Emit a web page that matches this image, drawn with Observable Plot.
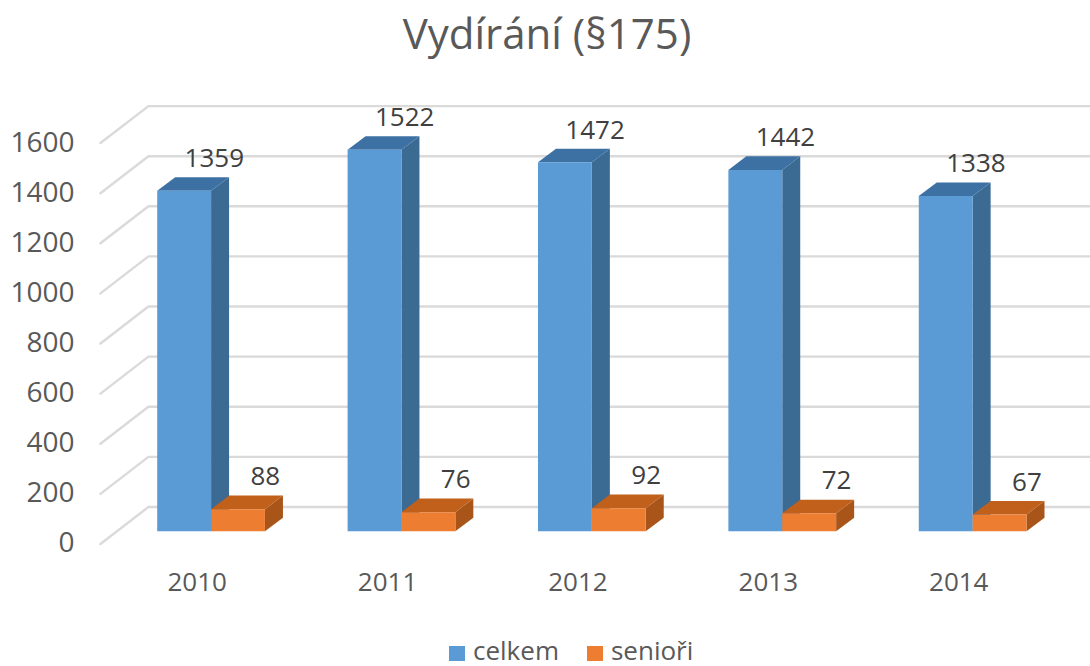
<!DOCTYPE html>
<html lang="cs">
<head>
<meta charset="utf-8">
<script src="https://cdn.jsdelivr.net/npm/d3@7"></script>
<script src="https://cdn.jsdelivr.net/npm/@observablehq/plot@0.6"></script>
<style>
  html, body { margin: 0; padding: 0; background: #fff; width: 1090px; height: 666px; overflow: hidden; }
  body { font-family: "Open Sans", sans-serif; color: #595959; }
  #title { height: 70px; line-height: 66px; text-align: center; font-size: 42px; padding-left: 4px; box-sizing: border-box; }
  #chart svg { display: block; }
  #legend { height: 46px; display: flex; justify-content: flex-start; align-items: center; padding: 14px 0 0 449px; box-sizing: border-box; font-size: 26px; line-height: 32px; }
  #legend span.key { display: inline-block; width: 16px; height: 15px; margin-right: 8px; position: relative; top: 3px; }
  #legend span.label { margin-right: 28px; }
</style>
</head>
<body>
<div id="title"></div>
<div id="chart"></div>
<div id="legend"></div>
<script>
const chartTitle = "Vydírání (§175)";
const years = [2010, 2011, 2012, 2013, 2014];
const celkem = [1359, 1522, 1472, 1442, 1338];
const seniori = [88, 76, 92, 72, 67];
const yTicks = [0, 200, 400, 600, 800, 1000, 1200, 1400, 1600];
const seriesNames = ["celkem", "senioři"];
const seriesColors = ["#5B9BD5", "#ED7D31"];
const sideColors = ["#3B6A93", "#A9551A"];
const topColors = ["#3D71A3", "#C0601B"];

// The 3D look is a shear of the data space: x is in category steps, y in value units.
const barW = 0.283, wallDX = 0.252, wallDY = 147.6;  // front edge of the floor to the back wall
const depthDX = 0.0945, depthDY = 54, frontY = -96.6; // bar depth, and the level of the bar's front foot
const xMin = -0.823, xMax = 4.902;

const grid = yTicks.flatMap(t => [
  {t, x: -0.298, y: t - wallDY},
  {t, x: -0.298 + wallDX, y: t},
  {t, x: xMax, y: t}
]);

function faces(values, series) {
  const start = series * barW;
  return values.flatMap((v, i) => {
    const l = i + start, r = l + barW, b = frontY, h = frontY + v;
    const poly = (face, pts) => pts.map(([x, y]) => ({id: `${series}-${i}-${face}`, face, x, y}));
    return [
      ...poly("side", [[r, b], [r + depthDX, b + depthDY], [r + depthDX, h + depthDY], [r, h]]),
      ...poly("top", [[l, h], [l + depthDX, h + depthDY], [r + depthDX, h + depthDY], [r, h]]),
      ...poly("front", [[l, b], [r, b], [r, h], [l, h]])
    ];
  });
}

const faceMarks = s => {
  const data = faces(s === 0 ? celkem : seniori, s);
  return [
    Plot.line(data.filter(d => d.face === "side"), {x: "x", y: "y", z: "id", fill: sideColors[s], stroke: "none"}),
    Plot.line(data.filter(d => d.face === "top"), {x: "x", y: "y", z: "id", fill: topColors[s], stroke: "none"}),
    Plot.line(data.filter(d => d.face === "front"), {x: "x", y: "y", z: "id", fill: seriesColors[s], stroke: "none"})
  ];
};

const labelStyle = {fill: "#404040", fontSize: 26, fontFamily: "Open Sans, sans-serif", stroke: "none"};

const plot = Plot.plot({
  width: 1090,
  height: 550,
  marginTop: 0, marginRight: 0, marginBottom: 0, marginLeft: 0,
  style: {background: "#fff", overflow: "visible"},
  x: {domain: [xMin, xMax], axis: null},
  y: {domain: [-453, 1742], axis: null},
  marks: [
    Plot.line(grid, {x: "x", y: "y", z: "t", stroke: "#DADADA", strokeWidth: 2.4}),
    Plot.axisY(yTicks, {
      anchor: "left", x: xMin, tickSize: 0, dx: 83, dy: 36.5, tickFormat: d => String(d),
      textAnchor: "end", label: null, fill: "#595959", fontSize: 28, fontFamily: "Open Sans, sans-serif"
    }),
    ...faceMarks(0),
    ...faceMarks(1),
    Plot.text(celkem, {x: (d, i) => i + 0.30, y: d => d + frontY, text: d => String(d), dy: -32, ...labelStyle}),
    Plot.text(seniori, {x: (d, i) => i + 0.568, y: d => d + frontY, text: d => String(d), dy: -32, ...labelStyle}),
    Plot.text(years, {x: (d, i) => i + 0.21, y: () => -304, text: d => String(d), fill: "#595959", fontSize: 26, fontFamily: "Open Sans, sans-serif"})
  ]
});

document.getElementById("title").textContent = chartTitle;
document.getElementById("chart").append(plot);
const legend = document.getElementById("legend");
seriesNames.forEach((name, i) => {
  const k = document.createElement("span"); k.className = "key"; k.style.background = seriesColors[i];
  const t = document.createElement("span"); t.className = "label"; t.textContent = name;
  legend.append(k, t);
});
</script>
</body>
</html>
